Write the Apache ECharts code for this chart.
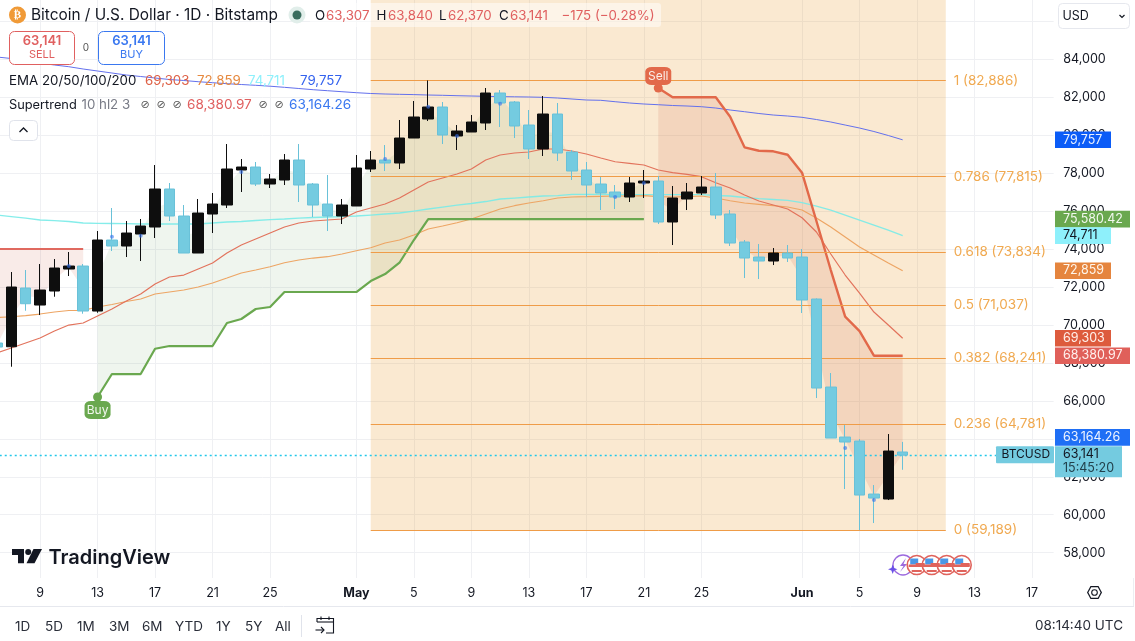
<!DOCTYPE html>
<html><head><meta charset="utf-8">
<style>html,body{margin:0;padding:0;background:#fff}#c{width:1135px;height:641px}</style>
<script src="https://cdn.jsdelivr.net/npm/echarts@6/dist/echarts.min.js"></script>
</head><body><div id="c"></div>
<script>
const categories=['Apr 6','Apr 7','Apr 8','Apr 9','Apr 10','Apr 11','Apr 12','Apr 13','Apr 14','Apr 15','Apr 16','Apr 17','Apr 18','Apr 19','Apr 20','Apr 21','Apr 22','Apr 23','Apr 24','Apr 25','Apr 26','Apr 27','Apr 28','Apr 29','Apr 30',
'May 1','May 2','May 3','May 4','May 5','May 6','May 7','May 8','May 9','May 10','May 11','May 12','May 13','May 14','May 15','May 16','May 17','May 18','May 19','May 20','May 21','May 22','May 23','May 24','May 25','May 26','May 27','May 28','May 29','May 30','May 31',
'Jun 1','Jun 2','Jun 3','Jun 4','Jun 5','Jun 6','Jun 7','Jun 8','Jun 9','Jun 10','Jun 11','Jun 12','Jun 13','Jun 14','Jun 15','Jun 16','Jun 17','Jun 18'];
const xTickLabels={'Apr 9':'9','Apr 13':'13','Apr 17':'17','Apr 21':'21','Apr 25':'25','May 1':'May','May 5':'5','May 9':'9','May 13':'13','May 17':'17','May 21':'21','May 25':'25','Jun 1':'Jun','Jun 5':'5','Jun 9':'9','Jun 13':'13','Jun 17':'17'};
const yTicks=[58000,60000,62000,64000,66000,68000,70000,72000,74000,76000,78000,80000,82000,84000];
const yGridValues=yTicks.concat([86000]);
// open, close, low, high
const candles=[[69049,68838,68680,69207],[68854,72000,67800,72791],[71947,71120,70751,72896],[71051,71842,70524,73212],[71789,73001,71489,73476],[72949,73107,72580,73845],[73107,70735,70593,73212],[70735,74477,70646,74951],[74477,74161,73897,76163],[74161,74846,73581,75478],[74793,75215,73370,75584],[75162,77165,74582,78429],[77165,75742,75478,77481],[75742,73792,73792,76321],[73792,75900,73792,76638],[75847,76374,74846,76954],[76321,78219,76163,79536],[78166,78324,77007,78746],[78324,77428,77323,78588],[77428,77692,77217,77955],[77639,78693,77375,79009],[78693,77375,76480,79536],[77428,76321,75689,77481],[76374,75742,74951,77902],[75742,76321,75320,76638],
[76269,78271,76269,78956],[78219,78693,78061,79167],[78693,78535,78113,79483],[78535,79852,78219,80801],[79852,80959,79852,81802],[80854,81486,80748,82886],[81486,80010,79536,81750],[79958,80221,79220,80537],[80169,80696,80169,81064],[80643,82224,80274,82487],[82224,81697,80432,82382],[81750,80485,79852,81802],[80537,79273,78746,81328],[79273,81117,78904,82066],[81117,79062,78640,81697],[79115,78113,77639,79220],[78166,77375,76743,78588],[77428,76954,76058,77797],[77007,76743,76111,77375],[76743,77481,76480,77797],[77481,77586,76690,78166],[77586,75426,75320,77850],[75426,76690,74213,77323],[76638,77007,76058,77481],[76954,77270,76848,77850],[77270,75794,75584,78008],[75847,74319,74161,76058],[74372,73528,72474,74477],[73581,73370,72422,74266],[73370,73792,73159,74055],[73792,73528,73318,74213],
[73581,71315,70630,74003],[71368,66677,66150,71400],[66730,64042,64042,67468],[64095,63832,61355,64727],[63884,61038,59189,63990],[61091,60880,59563,61565],[60828,63357,60775,64253],[63307,63141,62370,63840]];
const ema20=[68522,68785,69049,69312,69681,69997,70103,70472,70841,71262,71631,72158,72527,72632,72949,73265,73792,74213,74530,74846,75162,75373,75478,75531,75584,75953,76163,76374,76690,77112,77534,77744,77955,78219,78693,78956,79062,79115,79273,79273,79167,79009,78798,78603,78519,78429,78166,78024,77939,77813,77497,77217,76848,76532,76321,76111,75652,74899,73739,72632,71684,70683,69997,69303];
const ema50=[70393,70435,70498,70577,70683,70762,70772,70946,71078,71236,71368,71631,71737,71842,72000,72211,72474,72738,72896,73070,73281,73423,73528,73597,73739,73913,74071,74319,74477,74740,75057,75215,75389,75584,75847,76111,76285,76427,76548,76690,76743,76759,76780,76796,76796,76812,76759,76743,76759,76796,76690,76548,76427,76358,76285,76216,76058,75636,75162,74635,74108,73686,73265,72859];
const ema100=[75794,75715,75636,75531,75494,75452,75373,75357,75347,75336,75320,75320,75320,75320,75320,75373,75426,75452,75505,75557,75584,75636,75663,75689,75715,75742,75794,75847,75900,76005,76111,76216,76321,76401,76506,76638,76690,76743,76796,76812,76885,76885,76885,76864,76864,76864,76864,76864,76864,76864,76822,76796,76717,76654,76611,76569,76443,76269,76058,75794,75531,75267,75004,74711];
const ema200=[84121,84042,83910,83805,83699,83610,83489,83383,83278,83172,83093,83014,82935,82883,82819,82767,82714,82672,82630,82582,82524,82461,82398,82345,82292,82240,82198,82171,82155,82140,82118,82103,82082,82066,82050,82034,82024,82013,81997,81960,81908,81855,81839,81765,81697,81644,81607,81565,81539,81502,81433,81328,81238,81144,81064,81012,80943,80827,80696,80537,80379,80195,79984,79757];
const _=null;
const stDownEarly=[74003,74003,74003,74003,74003,74003,74003];
const stUp=[_,_,_,_,_,_,_,66203,67415,67415,67415,68749,68891,68891,68891,68891,70103,70314,70841,70946,71737,71737,71737,71737,71737,71737,72316,72685,73281,74477,75580,75580,75580,75580,75580,75580,75580,75580,75580,75580,75580,75580,75580,75580,75580,75580];
const stDownLate=[_,_,_,_,_,_,_,_,_,_,_,_,_,_,_,_,_,_,_,_,_,_,_,_,_,_,_,_,_,_,_,_,_,_,_,_,_,_,_,_,_,_,_,_,_,_,82488,81997,81997,81997,81997,80975,79362,79183,79151,78972,78024,75478,72896,70435,69681,68381,68381,68381];
const markerDates=['Apr 11','Apr 14','Apr 16','Apr 23','May 3','May 6','May 8','May 11','May 19','May 21','Jun 4','Jun 6'];
const markerPrices=[73107,74651,74704,78061,78746,81502,79958,81660,76743,77481,63515,60775];
const fibRatios=['1','0.786','0.618','0.5','0.382','0.236','0'];
const fibPrices=[82886,77815,73834,71037,68241,64781,59189];
const fibStart='May 2', fibEnd='Jun 11';
const lastClose=63141;
const emaValues=['69,303','72,859','74,711','79,757'];
const superValues=['68,380.97','63,164.26'];
const ranges=['1D','5D','1M','3M','6M','YTD','1Y','5Y','All'];

const C_UP='#0e0e0e',C_DN='#74cbe0',INK='#131722';
const YMIN=56667,YMAX=87125;
const mids=candles.map(c=>(c[0]+c[1])/2);
const segs=[{a:stDownEarly,f:'rgba(200,70,50,0.11)'},{a:stUp,f:'rgba(95,155,85,0.1)'},{a:stDownLate,f:'rgba(200,70,50,0.12)'}];
const fmt=v=>v.toLocaleString('en-US');
const line=(name,data,color,width,extra)=>Object.assign({name,type:'line',data,symbol:'none',showSymbol:false,silent:true,lineStyle:{color,width},itemStyle:{color},z:4,animation:false},extra||{});
const chart=echarts.init(document.getElementById('c'),null,{renderer:'canvas'});
const opt={
 animation:false,backgroundColor:'#fff',
 grid:{left:-10.27,width:1063.9,top:0,height:578,containLabel:false,outerBoundsMode:'none'},
 xAxis:{type:'category',data:categories,boundaryGap:true,
  axisLine:{show:false},axisTick:{show:false},
  splitLine:{show:true,alignWithLabel:true,interval:(i,v)=>v in xTickLabels,lineStyle:{color:'#eff0f3',width:1}},
  axisLabel:{interval:(i,v)=>v in xTickLabels,margin:9,color:INK,fontFamily:'Inter',fontSize:12.5,alignWithLabel:true,
   formatter:v=>{const t=xTickLabels[v];return /[A-Za-z]/.test(t)?'{b|'+t+'}':t},
   rich:{b:{fontFamily:'Inter',fontWeight:'bold',fontSize:12.5,color:INK}}}},
 yAxis:{type:'value',position:'right',min:YMIN,max:YMAX,scale:true,
  axisLine:{show:false},axisTick:{show:false,customValues:yGridValues},
  splitLine:{show:true,lineStyle:{color:'#eff0f3',width:1}},
  axisLabel:{customValues:yTicks,margin:9.5,align:'left',color:INK,fontFamily:'Inter',fontSize:12.6,padding:[0,0,5,0],formatter:fmt}},
 series:[
  {type:'custom',coordinateSystem:'cartesian2d',silent:true,z:3,data:[[0,70000],[1,70000],[2,70000]],encode:{x:0,y:1},clip:true,
   renderItem:(p,api)=>{const s=segs[p.dataIndex];const top=[],bot=[];
    s.a.forEach((v,i)=>{if(v!=null){top.push(api.coord([i,v]));bot.unshift(api.coord([i,mids[i]]));}});
    return{type:'polygon',shape:{points:top.concat(bot)},style:{fill:s.f}};}},
  {name:'Fib',type:'line',data:[],silent:true,z:2,
   markArea:{silent:true,itemStyle:{color:'rgba(233,155,46,0.22)'},data:[[{xAxis:fibStart,yAxis:59189},{xAxis:fibEnd,yAxis:YMAX}]]},
   markLine:{silent:true,symbol:'none',animation:false,lineStyle:{color:'#ef9c48',width:1,type:'solid'},
    label:{position:'end',distance:8,color:'#f0a950',fontFamily:'Inter',fontSize:13.5,formatter:p=>p.data.t},
    data:fibPrices.map((p,i)=>[{xAxis:fibStart,yAxis:p,t:fibRatios[i]+' ('+fmt(p)+')'},{xAxis:fibEnd,yAxis:p}])}},
  line('EMA200',ema200,'#6370ec',1),
  line('EMA100',ema100,'#8ef0f2',1.2,{lineStyle:{color:'rgba(120,235,232,0.9)',width:1.3}}),
  line('EMA50',ema50,'#eda564',1.2),
  line('EMA20',ema20,'#e2735c',1.2),
  line('stDownEarly',stDownEarly,'#e0695f',2.2),
  line('stUp',stUp,'#6aa84f',2.2,{markPoint:{silent:true,animation:false,data:[
    {coord:['Apr 13',66203],symbol:'circle',symbolSize:9,itemStyle:{color:'#6aa84f'},label:{show:false}},
    {coord:['Apr 13',66203],symbol:'roundRect',symbolSize:[26,18],symbolOffset:[0,13],itemStyle:{color:'#6aa84f'},label:{show:true,position:'inside',formatter:'Buy',offset:[0,0],color:'#f3f8ef',fontFamily:'Inter',fontSize:12}}]}}),
  line('stDownLate',stDownLate,'#e2694a',2.4,{markPoint:{silent:true,animation:false,data:[
    {coord:['May 22',82488],symbol:'circle',symbolSize:9,itemStyle:{color:'#e2694a'},label:{show:false}},
    {coord:['May 22',82488],symbol:'roundRect',symbolSize:[26,18],symbolOffset:[0,-12],itemStyle:{color:'#e2694a'},label:{show:true,position:'inside',formatter:'Sell',color:'#fbeee8',fontFamily:'Inter',fontSize:12}}]}}),
  {name:'BTCUSD',type:'candlestick',data:candles,barWidth:11,z:5,silent:true,clip:true,
   itemStyle:{color:C_UP,color0:C_DN,borderColor:C_UP,borderColor0:'#69c1d8',borderWidth:1},
   markLine:{silent:true,symbol:'none',animation:false,label:{show:false},lineStyle:{color:'#22c8ea',width:1.3,type:[2,3]},data:[{yAxis:lastClose}]}},
  {type:'scatter',z:6,silent:true,symbol:'circle',symbolSize:4,itemStyle:{color:'rgba(50,110,235,0.75)'},
   data:markerDates.map((d,i)=>[d,markerPrices[i]])}
 ]};
chart.setOption(opt);

// ---- page chrome, drawn as real text ----
const G=[];
const T=(x,y,text,fill,size,o)=>{G.push({type:'text',z:100,silent:true,style:Object.assign({x,y,text,fill:fill||INK,font:(o&&o.weight||'normal')+' '+(size||13)+'px Inter, "Noto Sans", "DejaVu Sans"',textVerticalAlign:'middle',textAlign:(o&&o.align)||'left'},o&&o.style||{})})};
const R=(x,y,w,h,fill,stroke,r,lw)=>G.push({type:'rect',z:99,silent:true,shape:{x,y,width:w,height:h,r:r||0},style:{fill:fill||'none',stroke:stroke||null,lineWidth:lw||1}});
const Cc=(cx,cy,r,fill,stroke,lw,z)=>G.push({type:'circle',z:z||99,silent:true,shape:{cx,cy,r},style:{fill:fill||'none',stroke:stroke||null,lineWidth:lw||1}});
const L=(pts,stroke,lw)=>G.push({type:'polyline',z:100,silent:true,shape:{points:pts},style:{stroke,lineWidth:lw||1,fill:'none'}});
const P=(pts,fill)=>G.push({type:'polygon',z:100,silent:true,shape:{points:pts},style:{fill}});
const RED='#e06060',BLUE='#3a78f0';
// title row
Cc(17.5,15,8.5,'#f09a37');
G.push({type:'text',z:100,silent:true,style:{x:17.5,y:15.5,text:'₿',fill:'#fff',font:'bold 11px "DejaVu Sans"',textAlign:'center',textVerticalAlign:'middle'}});
T(31,15,'Bitcoin / U.S. Dollar · 1D · Bitstamp',INK,15.4);
Cc(297,15,8.5,'#e1eeea');Cc(297,15,4.5,'#3a6d5e');
R(310,3,351,24,'rgba(255,255,255,0.5)',null,3);
T(315,15.5,'O',INK,13.3);T(326,15.5,'63,307',RED,13.3);
T(376.5,15.5,'H',INK,13.3);T(388,15.5,'63,840',RED,13.3);
T(439,15.5,'L',INK,13.3);T(448,15.5,'62,370',RED,13.3);
T(499,15.5,'C',INK,13.3);T(510,15.5,'63,141',RED,13.3);
T(561.5,15.5,'−175 (−0.28%)',RED,13.3);
// sell / buy
R(9.5,31.5,65,33,'#fff',RED,5,1);R(98.5,31.5,66,33,'#fff',BLUE,5,1);
T(42,41,'63,141',RED,13,{align:'center',weight:'600'});T(42,55,'SELL',RED,11,{align:'center'});
T(131.5,41,'63,141',BLUE,13,{align:'center',weight:'600'});T(131.5,55,'BUY',BLUE,11,{align:'center'});
T(86,48,'0','#555',10,{align:'center'});
// indicator legends
T(9,81,'EMA 20/50/100/200',INK,13.3);
[[145,'#de6045'],[197,'#e6893f'],[248,'#8ef0fb'],[300,'#3362ee']].forEach((a,i)=>T(a[0],81,emaValues[i],a[1],13.3));
T(9,105,'Supertrend',INK,12.8);T(81.5,105,'10 hl2 3','#787b86',13.3);
[145,161,177,263,279].forEach(x=>T(x,105.5,'⊘','#555',11,{align:'center',style:{font:'11px "DejaVu Sans"'}}));
T(187,105,superValues[0],RED,13.6);T(289,105,superValues[1],BLUE,13.6);
R(9.5,120.5,28,20,'#fff','#e0e3eb',4,1);L([[19.5,132],[23.5,128],[27.5,132]],INK,1.3);
// USD
R(1058.5,3.5,71,25,'#fff','#e6e8ee',4,1);T(1062.5,16,'USD',INK,12.5);L([[1119.5,15],[1122,17.5],[1124.5,15]],INK,1.2);
// logo
P([[12,549],[24,549],[24,563.3],[18,563.3],[18,555],[12,555]],INK);
Cc(28.2,552,3,INK,null,1,100);
P([[33.5,549],[42,549],[34.5,563.3],[26.5,563.3]],INK);
T(48.5,557.5,'TradingView',INK,20,{weight:'600'});
// bottom strip
G.push({type:'line',z:99,silent:true,shape:{x1:0,y1:606.5,x2:1134,y2:606.5},style:{stroke:'#e6e8ee',lineWidth:1}});
G.push({type:'line',z:99,silent:true,shape:{x1:1133.5,y1:578,x2:1133.5,y2:606},style:{stroke:'#eceef2',lineWidth:1}});
[[15,0],[45,1],[77,2],[109,3],[142,4],[175,5],[216,6],[245,7],[275,8]].forEach(a=>T(a[0],627,ranges[a[1]],'#2a2e39',13.5));
G.push({type:'line',z:99,silent:true,shape:{x1:301.5,y1:615,x2:301.5,y2:637},style:{stroke:'#e0e3eb',lineWidth:1}});
L([[317,622],[317,618.5],[333.5,618.5],[333.5,633],[326,633]],INK,1.1);L([[317,622],[333.5,622]],INK,1.1);
L([[321,616.5],[321,620]],INK,1.1);L([[329,616.5],[329,620]],INK,1.1);
L([[315.5,630],[324,630]],INK,1.1);L([[321,627],[324,630],[321,633]],INK,1.1);
T(1123,626,'08:14:40 UTC','#2a2e39',13.5,{align:'right'});
// settings hexagon
P([[1087,592.5],[1090.5,586],[1098.5,586],[1102,592.5],[1098.5,599],[1090.5,599]],'#131722');
P([[1088.4,592.5],[1091.2,587.2],[1097.8,587.2],[1100.6,592.5],[1097.8,597.8],[1091.2,597.8]],'#fff');
Cc(1094.5,592.5,2.8,'#fff',INK,1.1,100);
// event icons
P([[892.7,564.5],[894,568],[897.5,569.2],[894,570.4],[892.7,574],[891.4,570.4],[888,569.2],[891.4,568]],'#6a50e8');
Cc(903,565,10,'#fff','#9c6ade',1.3,99);
P([[906,558],[900,566],[903.5,566],[900,572],[907,564],[903.5,564]],'#9c6ade');
[916.7,931.7,946.7,961.7].forEach(x=>{Cc(x,565,9.5,'#fff','#e0635c',1.6,100);
 G.push({type:'rect',z:101,silent:true,shape:{x:x-6.5,y:558.5,width:8,height:6},style:{fill:'#4a97e6'}});
 G.push({type:'rect',z:101,silent:true,shape:{x:x-1,y:563,width:9,height:3},style:{fill:'#e0635c'}});
 G.push({type:'rect',z:101,silent:true,shape:{x:x-8,y:564.5,width:16,height:2.5},style:{fill:'#e0635c'}});
 G.push({type:'rect',z:101,silent:true,shape:{x:x-5,y:570,width:10,height:2},style:{fill:'#e0635c'}});});
// price tags, tied to the y axis
const Y=v=>chart.convertToPixel({yAxisIndex:0},v);
const tag=(value,text,fill,ink,wide,shift)=>{const y=Y(value)+(shift||0);R(1055,y-8.3,wide?75:56,16.6,fill);T(1063,y,text,ink,12.5);};
tag(79757,'79,757','#0b5cf7','#e8f0ff');
tag(75580.42,'75,580.42','#6aa84f','#f2f8ee',true);
tag(74711,'74,711','#8ef0fb','#131722');
tag(72859,'72,859','#e5853e','#fff5ea');
tag(69303,'69,303','#dd5b3d','#fff0ea');
tag(68380.97,'68,380.97','#e0605a','#fff0ee',true);
tag(63164.26,'63,164.26','#1f6ff5','#eef4ff',true,-17.3);
const py=Y(lastClose);
R(1055,py-9,67,31,C_DN);T(1063,py-1.2,'63,141',INK,12.5);T(1063,py+12.6,'15:45:20','#22414c',12.5);
R(996,py-9,58,17,C_DN,null,1);T(1001.5,py-0.5,'BTCUSD',INK,12);
chart.setOption({graphic:{elements:G}});
</script></body></html>
